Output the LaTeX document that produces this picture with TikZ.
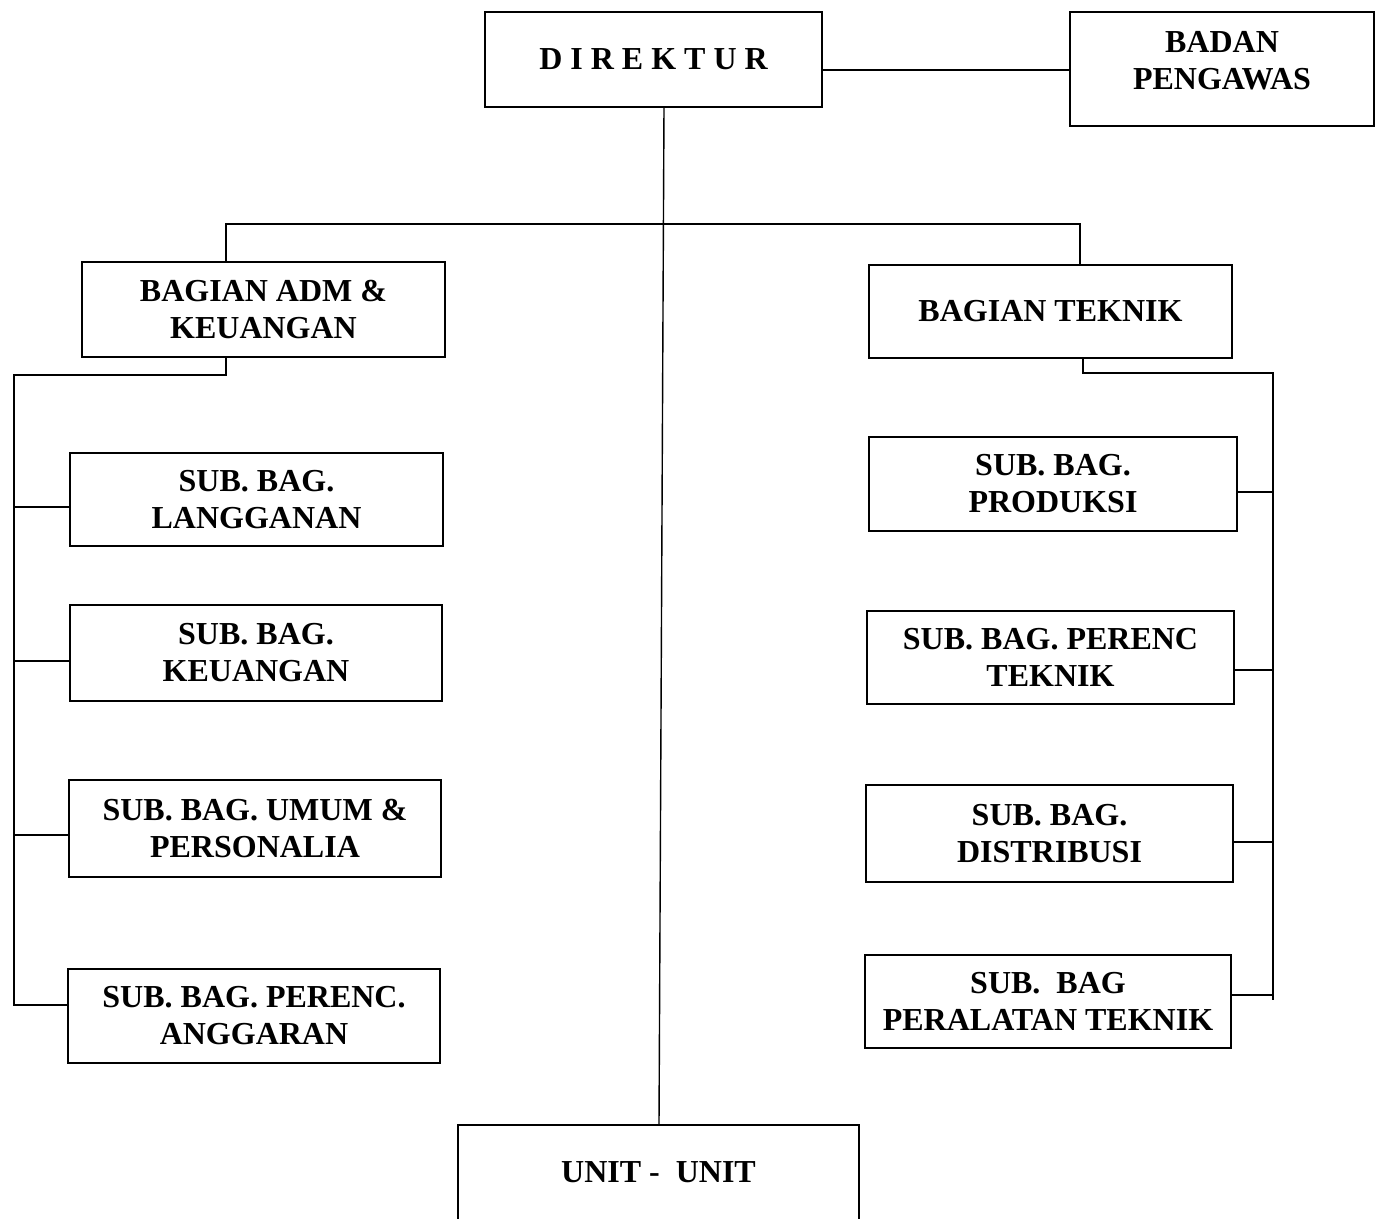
\documentclass[tikz,border=0pt]{standalone}
\usepackage{fontspec}
\setmainfont{Liberation Serif}
\begin{document}
\begin{tikzpicture}[x=0.5pt,y=-0.5pt,
  orgbox/.style={draw=black, line width=0.9pt, rectangle, align=center, inner sep=2pt,
    font=\bfseries\fontsize{16}{18.5}\selectfont},
  orgtext/.style={align=center, inner sep=0pt, font=\bfseries\fontsize{16}{18.5}\selectfont},
  link/.style={draw=black, line width=0.7pt}]
\useasboundingbox (0,0) rectangle (1383,1219);
\fill[white] (0,0) rectangle (1383,1219);
% boxes
\node[orgbox, minimum width=168.5pt, minimum height=47.5pt] (dir) at (653.5,59.5) {D I R E K T U R};
\node[orgbox, minimum width=152pt, minimum height=57pt] (bp) at (1222,69) {};
\node[orgtext] (bptext) at (1222,61) {BADAN\\PENGAWAS};
\node[orgbox, minimum width=181.5pt, minimum height=47.5pt] (adm) at (263.5,309.5) {BAGIAN ADM \&\\KEUANGAN};
\node[orgbox, minimum width=181.5pt, minimum height=46.5pt] (tek) at (1050.5,311.5) {BAGIAN TEKNIK};
\node[orgbox, minimum width=186.5pt, minimum height=46.5pt] (l1) at (256.5,499.5) {SUB. BAG.\\LANGGANAN};
\node[orgbox, minimum width=186pt, minimum height=48pt] (l2) at (256,653) {SUB. BAG.\\KEUANGAN};
\node[orgbox, minimum width=186pt, minimum height=48.5pt] (l3) at (255,828.5) {SUB. BAG. UMUM \&\\PERSONALIA};
\node[orgbox, minimum width=186pt, minimum height=47pt] (l4) at (254,1016) {SUB. BAG. PERENC.\\ANGGARAN};
\node[orgbox, minimum width=184pt, minimum height=47pt] (r1) at (1053,484) {SUB. BAG.\\PRODUKSI};
\node[orgbox, minimum width=183.5pt, minimum height=46.5pt] (r2) at (1050.5,657.5) {SUB. BAG. PERENC\\TEKNIK};
\node[orgbox, minimum width=183.5pt, minimum height=48.5pt] (r3) at (1049.5,833.5) {SUB. BAG.\\DISTRIBUSI};
\node[orgbox, minimum width=183pt, minimum height=46.5pt] (r4) at (1048,1001.5) {SUB.\ \ BAG\\PERALATAN TEKNIK};
\node[orgbox, minimum width=200.5pt, minimum height=50pt] (unit) at (658.5,1175) {};
\node[orgtext] (unittext) at (658.5,1172) {UNIT -\ \ UNIT};
% coordinates
\coordinate (ttop) at (664,107);
\coordinate (tbot) at (659,1125);
\coordinate (hl) at (226,224);
\coordinate (hr) at (1080,224);
\coordinate (la) at (226,375);
\coordinate (lb) at (14,375);
\coordinate (lc) at (14,1005);
\coordinate (ra) at (1083,373);
\coordinate (rb) at (1273,373);
\coordinate (rc) at (1273,1000);
\coordinate (bl1) at (14,507);
\coordinate (bl2) at (14,661);
\coordinate (bl3) at (14,835);
\coordinate (br1) at (1273,492);
\coordinate (br2) at (1273,670);
\coordinate (br3) at (1273,842);
\coordinate (br4) at (1273,995);
% connectors
\draw[link] (dir.east |- 0,70) -- (bp.west |- 0,70);
\draw[link] (ttop) -- (tbot);
\draw[link] (adm.north -| hl) -- (hl) -- (hr) -- (tek.north -| hr);
\draw[link] (adm.south -| la) -- (la) -- (lb) -- (lc) -- (lc -| l4.west);
\draw[link] (bl1) -- (bl1 -| l1.west);
\draw[link] (bl2) -- (bl2 -| l2.west);
\draw[link] (bl3) -- (bl3 -| l3.west);
\draw[link] (tek.south -| ra) -- (ra) -- (rb) -- (rc);
\draw[link] (br1) -- (br1 -| r1.east);
\draw[link] (br2) -- (br2 -| r2.east);
\draw[link] (br3) -- (br3 -| r3.east);
\draw[link] (br4) -- (br4 -| r4.east);
\end{tikzpicture}
\end{document}
